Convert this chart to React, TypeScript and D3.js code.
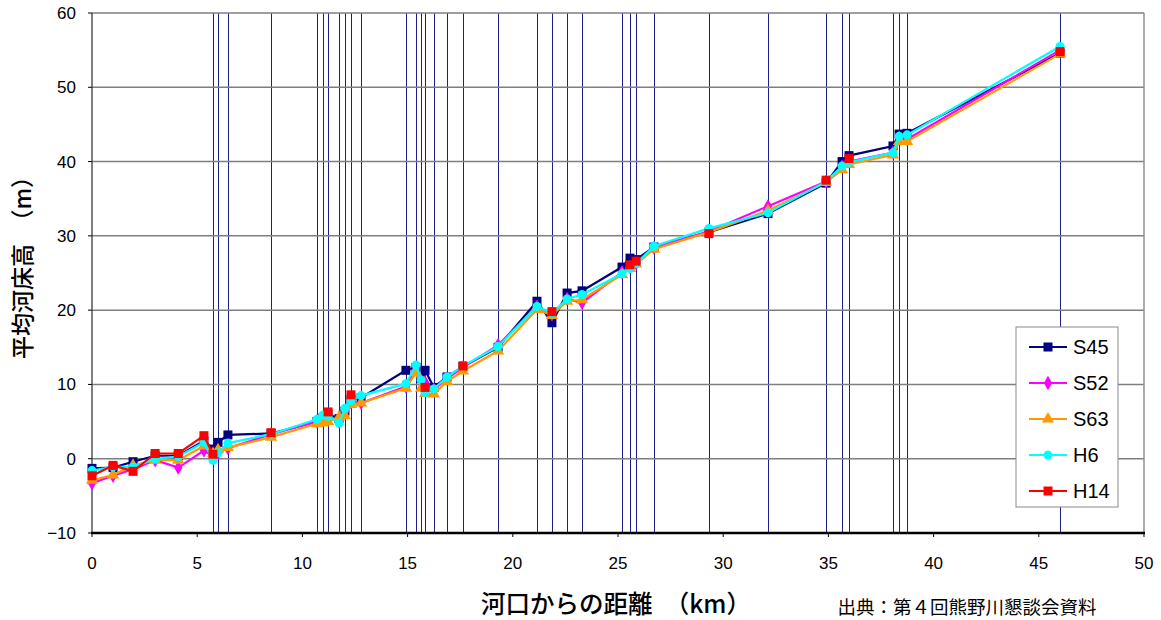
import React from "react";
import * as d3 from "d3";

// distance from river mouth (km)
const distances = [0, 1.0, 1.95, 3.0, 4.1, 5.32, 5.75, 5.99, 6.46, 8.51, 10.69, 10.98, 11.22, 11.74, 12.02, 12.31, 12.79, 14.92, 15.4, 15.64, 15.83, 16.25, 16.87, 17.63, 19.3, 21.15, 21.86, 22.58, 23.29, 25.19, 25.57, 25.86, 26.71, 29.32, 32.13, 34.89, 35.65, 35.98, 38.07, 38.36, 38.74, 46.01];

// section lines (km)
const sectionLines = [5.75, 5.99, 6.46, 8.51, 10.69, 10.98, 11.22, 11.74, 12.02, 12.31, 12.79, 14.92, 15.4, 15.64, 15.83, 16.25, 16.87, 17.63, 19.3, 21.15, 21.86, 22.58, 23.29, 25.19, 25.57, 25.86, 26.71, 29.32, 32.13, 34.89, 35.65, 35.98, 38.07, 38.36, 38.74, 46.01];

const s45 = [-1.3, -1.2, -0.4, 0.4, 0.4, 2.4, 1.3, 2.2, 3.2, 3.4, 5.0, 5.5, 6.0, 5.4, 6.4, 8.0, 8.2, 11.9, 12.3, 10.8, 11.9, 9.6, 11.0, 12.4, 15.0, 21.2, 18.3, 22.3, 22.6, 25.8, 27.0, 26.8, 28.5, 30.5, 33.0, 37.1, 40.0, 40.8, 42.1, 43.7, 43.8, 54.6];
const s52 = [-3.3, -2.3, -1.4, -0.2, -1.2, 1.1, 0.3, 0.8, 1.4, 3.3, 5.0, 5.2, 5.6, 5.0, 6.3, 7.6, 7.5, 9.7, 12.0, 10.5, 10.3, 9.3, 10.8, 12.3, 15.3, 20.5, 19.4, 21.5, 21.0, 25.1, 25.8, 26.3, 28.4, 30.6, 34.0, 37.3, 39.3, 40.0, 41.2, 43.2, 43.0, 55.0];
const s63 = [-2.9, -2.2, -0.9, -0.2, -0.2, 1.7, 0.7, 1.2, 1.5, 2.9, 4.7, 4.8, 5.0, 5.6, 5.8, 7.3, 7.5, 9.5, 11.6, 9.5, 8.8, 8.7, 10.4, 11.8, 14.5, 20.1, 19.3, 21.2, 21.4, 24.8, 25.6, 26.2, 28.2, 30.5, 33.4, 37.2, 38.9, 39.6, 40.9, 42.7, 42.7, 54.5];
const h6 = [-1.6, -1.1, -1.1, 0.0, 0.3, 2.2, -0.2, 0.8, 2.1, 3.3, 5.3, 5.9, 5.7, 4.8, 6.8, 7.8, 8.5, 10.1, 12.6, 10.6, 8.9, 9.4, 11.0, 12.5, 15.1, 20.5, 19.6, 21.5, 22.1, 24.9, 25.6, 26.3, 28.6, 31.0, 33.1, 37.3, 39.4, 39.9, 41.2, 43.4, 43.6, 55.5];
const h14 = [-2.3, -0.9, -1.7, 0.7, 0.7, 3.1, 0.6, null, null, 3.5, null, null, 6.3, null, null, 8.6, null, null, null, null, 9.6, null, null, 12.5, null, null, 19.8, null, null, null, 26.1, 26.6, null, 30.3, null, 37.5, null, 40.4, null, null, null, 54.8];

const seriesNames = ["S45", "S52", "S63", "H6", "H14"];
const seriesValues = [s45, s52, s63, h6, h14];
const seriesColors = ["#000080", "#ff00ff", "#ff9900", "#00ffff", "#ff0000"];
const seriesMarkers = ["square", "diamond", "triangle", "circle", "square"];

const xTicks = [0, 5, 10, 15, 20, 25, 30, 35, 40, 45, 50];
const yTicks = [-10, 0, 10, 20, 30, 40, 50, 60];

const W = 1161, H = 620;
const L = 92, R = 1144, T = 13, B = 533;

function Marker({ type, x, y, color }: { type: string; x: number; y: number; color: string }) {
  if (type === "square") return <rect x={x - 4.5} y={y - 4.5} width={9} height={9} fill={color} />;
  if (type === "diamond") {
    const s = d3.symbol().type(d3.symbolDiamond).size(60)();
    return <path d={s as string} transform={`translate(${x},${y})`} fill={color} />;
  }
  if (type === "triangle") {
    const s = d3.symbol().type(d3.symbolTriangle).size(65)();
    return <path d={s as string} transform={`translate(${x},${y})`} fill={color} />;
  }
  return <circle cx={x} cy={y} r={4.5} fill={color} />;
}

export default function App() {
  const x = d3.scaleLinear().domain([0, 50]).range([L, R]);
  const y = d3.scaleLinear().domain([-10, 60]).range([B, T]);
  const numFont = "'Liberation Sans Narrow', 'Liberation Sans', Arial, sans-serif";
  const jpFont = "'Noto Sans CJK JP', sans-serif";

  const line = d3
    .line<[number, number | null]>()
    .defined((d) => d[1] !== null)
    .x((d) => x(d[0]))
    .y((d) => y(d[1] as number));

  const legendItems = seriesNames.map((n, i) => ({ n, i }));

  return (
    <svg width={W} height={H} style={{ position: "absolute", left: 0, top: 0, background: "#fff" }}>
      <rect x={0} y={0} width={W} height={H} fill="#fff" />
      {/* section lines */}
      {sectionLines.map((k, i) => (
        <line key={"s" + i} x1={Math.round(x(k)) + 0.5} x2={Math.round(x(k)) + 0.5} y1={T} y2={B} stroke="#1e1e8a" strokeWidth={1} />
      ))}
      {/* grid */}
      {yTicks.map((t) => (
        <line key={"g" + t} x1={L} x2={R} y1={y(t)} y2={y(t)} stroke="#7f7f7f" strokeWidth={1.5} />
      ))}
      <line x1={R} x2={R} y1={T} y2={B} stroke="#8f8f8f" strokeWidth={1.5} />
      {/* axes */}
      <line x1={L} x2={L} y1={T} y2={B + 1} stroke="#555" strokeWidth={1.5} />
      <line x1={L - 1} x2={R + 1} y1={B} y2={B} stroke="#000" strokeWidth={2.5} />
      {yTicks.map((t) => (
        <line key={"yt" + t} x1={L - 4} x2={L} y1={y(t)} y2={y(t)} stroke="#000" strokeWidth={1} />
      ))}
      {xTicks.map((t) => (
        <line key={"xt" + t} x1={x(t)} x2={x(t)} y1={B} y2={B + 4} stroke="#000" strokeWidth={1} />
      ))}
      {/* series: line then markers, in series order */}
      {seriesValues.map((vals, si) => {
        const pts = distances.map((d, i) => [d, vals[i]] as [number, number | null]);
        return (
          <g key={"ser" + si}>
            <path d={line(pts) as string} fill="none" stroke={seriesColors[si]} strokeWidth={2.2} />
            {distances.map((d, i) =>
              vals[i] === null ? null : (
                <Marker key={i} type={seriesMarkers[si]} x={x(d)} y={y(vals[i] as number)} color={seriesColors[si]} />
              )
            )}
          </g>
        );
      })}
      {/* tick labels */}
      {yTicks.map((t) => (
        <text key={"yl" + t} x={76} y={y(t) + 6} textAnchor="end" fontFamily={numFont} fontSize={17} fill="#000">
          {t < 0 ? "−" + Math.abs(t) : t}
        </text>
      ))}
      {xTicks.map((t) => (
        <text key={"xl" + t} x={x(t)} y={569} textAnchor="middle" fontFamily={numFont} fontSize={17} fill="#000">
          {t}
        </text>
      ))}
      {/* axis titles */}
      <text
        transform={`translate(31,${262}) rotate(-90)`}
        textAnchor="middle"
        fontFamily={jpFont}
        fontSize={23}
        fontWeight={500}
        fill="#000"
      >
        平均河床高　（m）
      </text>
      <text x={616} y={613} textAnchor="middle" fontFamily={jpFont} fontSize={24.5} fontWeight={500} fill="#000">
        河口からの距離　（km）
      </text>
      <text x={967} y={614} textAnchor="middle" fontFamily={jpFont} fontSize={18.5} fill="#000">
        出典：第４回熊野川懇談会資料
      </text>
      {/* legend */}
      <rect x={1016} y={327} width={102} height={180} fill="#fff" stroke="#8a8a8a" strokeWidth={1} />
      {legendItems.map(({ n, i }) => {
        const ly = 347 + i * 36;
        return (
          <g key={"lg" + i}>
            <line x1={1029} x2={1067} y1={ly} y2={ly} stroke={seriesColors[i]} strokeWidth={2} />
            <Marker type={seriesMarkers[i]} x={1048} y={ly} color={seriesColors[i]} />
            <text x={1073} y={ly + 7} fontFamily={numFont} fontSize={20} fill="#000">
              {n}
            </text>
          </g>
        );
      })}
    </svg>
  );
}
